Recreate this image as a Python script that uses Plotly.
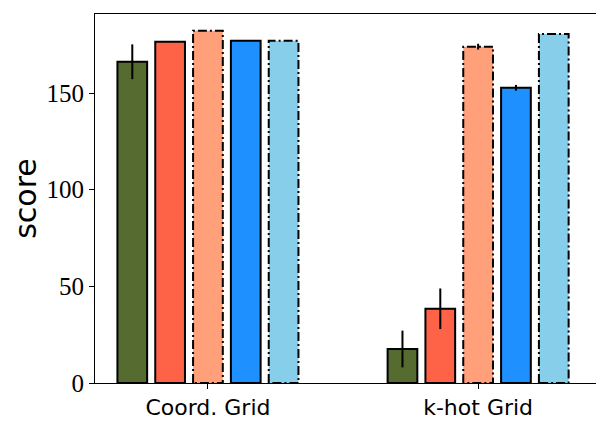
import plotly.graph_objects as go

# data
groups = ['Coord. Grid', 'k-hot Grid']
colors = ['#556B2F', '#FF6347', '#FFA07A', '#1E90FF', '#87CEEB']
dashed = [False, False, True, False, True]
scores = [
    [166.2, 17.6],
    [176.5, 38.4],
    [182.2, 174.0],
    [177.0, 152.7],
    [177.0, 180.5],
]
errors = [
    [9.0, 9.5],
    [0.0, 10.5],
    [0.0, 1.5],
    [0.0, 1.5],
    [0.0, 0.0],
]

step = 0.14
width = 0.11

fig = go.Figure()
for j in range(len(scores)):
    xs = [i + (j - 2) * step for i in range(len(groups))]
    fig.add_trace(go.Bar(
        x=xs, y=scores[j], width=width,
        marker=dict(color=colors[j],
                    line=dict(color='black', width=0 if dashed[j] else 2)),
        error_y=dict(type='data', array=errors[j], color='black',
                     thickness=2, width=0, visible=True),
        showlegend=False,
    ))

# dash-dot outlines for the hatched-edge bars
for j in range(len(scores)):
    if not dashed[j]:
        continue
    for i in range(len(groups)):
        xc = i + (j - 2) * step
        x0, x1 = xc - width / 2, xc + width / 2
        v = scores[j][i]
        fig.add_trace(go.Scatter(
            x=[x0, x0, x1, x1, x0], y=[0, v, v, 0, 0], mode='lines',
            line=dict(color='black', width=2, dash='9px,3px,2px,3px'),
            showlegend=False, hoverinfo='skip',
        ))

# page body has an 8px margin, so the figure is shrunk to fit the window
fig.update_layout(
    width=592, height=419,
    margin=dict(l=87, r=3, t=6, b=44),
    plot_bgcolor='white', paper_bgcolor='white',
    barmode='overlay',
)
fig.update_xaxes(
    range=[-0.418, 1.44], automargin=False,
    tickvals=list(range(len(groups))), ticktext=groups,
    tickfont=dict(family='DejaVu Sans', size=22, color='black'),
    ticks='outside', ticklen=5, tickcolor='black',
    showline=True, linecolor='black', linewidth=1, mirror=True,
    showgrid=False, zeroline=False,
)
fig.update_yaxes(
    range=[0, 190.9],
    tickvals=[0, 50, 100, 150],
    tickfont=dict(family='Liberation Serif', size=25, color='black'),
    ticks='outside', ticklen=5, tickcolor='black',
    showline=True, linecolor='black', linewidth=1, mirror=True,
    showgrid=False, zeroline=False,
    title=dict(text='score', font=dict(family='DejaVu Sans', size=30, color='black'),
               standoff=10),
)

fig.write_html('out.html')
